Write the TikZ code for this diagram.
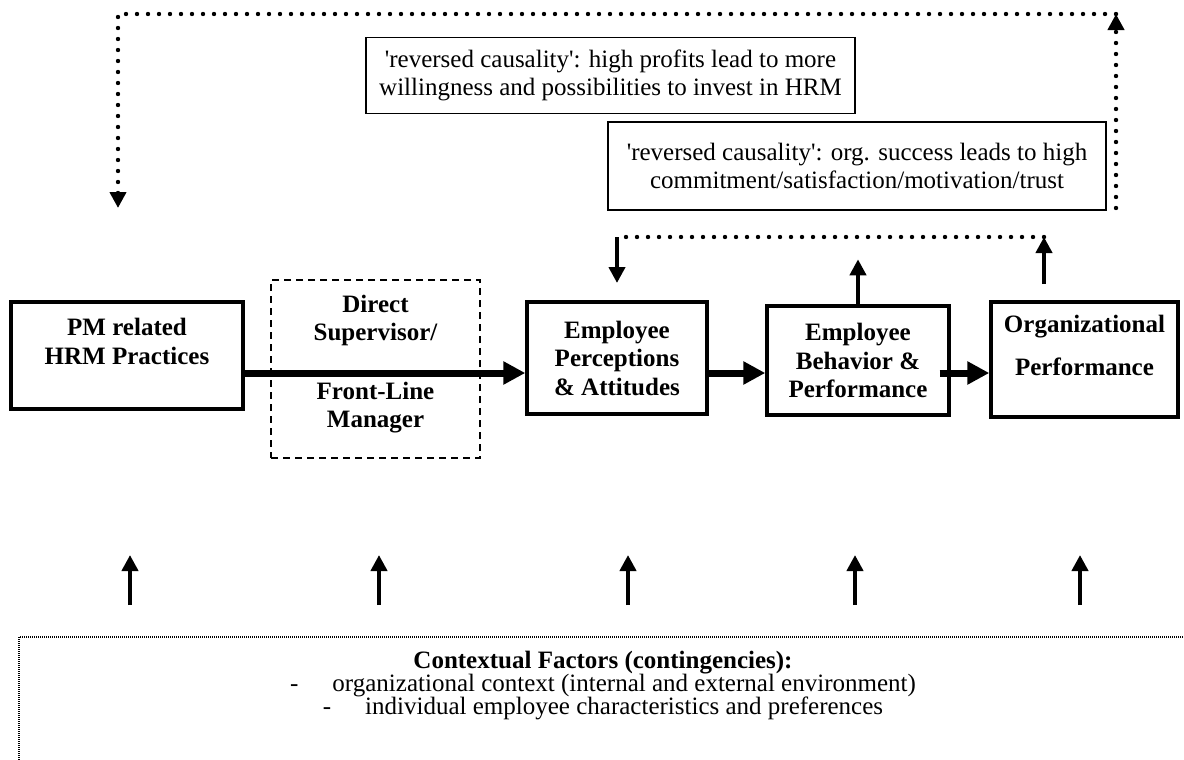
\documentclass[tikz,border=0pt]{standalone}
\usepackage{fontspec}
\setmainfont{Liberation Serif}
\usetikzlibrary{arrows.meta,calc}

\begin{document}
\begin{tikzpicture}[x=0.5pt,y=-0.5pt]
% Positions are in pixels of the original figure, y running down.

% This determines how the boxes and arrows will look.
\tikzstyle{box}=[draw,line width=1.7pt,align=center,inner sep=0pt,
font=\fontsize{12.5}{14.25}\selectfont\bfseries]
\tikzstyle{note}=[draw,line width=0.9pt,align=center,inner sep=0pt,
font=\fontsize{12.5}{14}\selectfont]
\tikzstyle{bigarrow}=[line width=3.5pt,-{Triangle[width=11pt,length=11pt]}]
\tikzstyle{arrow}=[line width=2pt,-{Triangle[width=8pt,length=8pt]}]
\tikzstyle{dots}=[line width=2.2pt,line cap=round,dash pattern=on 0pt off 5.5pt]
\tikzstyle{frame}=[line width=0.6pt,dash pattern=on 0.5pt off 0.5pt]

\useasboundingbox (0,0) rectangle (1184,760);

% This draws the chain of boxes.
\node[box,minimum width=116pt,minimum height=53.5pt] (pm) at (127,355.5) {PM related\\HRM Practices\\\mbox{}};
\node[box,line width=0.8pt,dash pattern=on 3.5pt off 2.5pt,minimum width=104.5pt,minimum height=89pt] (sup) at (375.5,369) {Direct\\Supervisor/\\[15pt]Front-Line\\Manager\\[-6.75pt]\mbox{}};
\node[box,minimum width=90pt,minimum height=56pt] (perc) at (617,358) {Employee\\Perceptions\\\& Attitudes};
\node[box,minimum width=91pt,minimum height=54.5pt] (behav) at (858,360.5) {Employee\\Behavior \&\\Performance};
\node[box,minimum width=93.5pt,minimum height=57.5pt] (org) at (1084.5,359.5) {Organizational\\[7.5pt]Performance\\\mbox{}};

% This draws the two notes on reversed causality.
\node[note,minimum width=244.5pt,minimum height=38pt] (profits) at (610.5,75.5) {\textquotesingle reversed causality\textquotesingle: high profits lead to more\\willingness and possibilities to invest in HRM};
\node[note,minimum width=249pt,minimum height=44pt] (success) at (857,166) {\textquotesingle reversed causality\textquotesingle: org. success leads to high\\commitment/satisfaction/motivation/trust};

% This draws the main arrows.
\coordinate (row) at (0,373);
\draw[bigarrow] (pm.east |- row) -- (perc.west |- row);
\draw[bigarrow] (perc.east |- row) -- (behav.west |- row);
\draw[bigarrow] ($(behav.east |- row)-(11,0)$) -- (org.west |- row);

% This draws the short feedback loop.
\coordinate (fbR) at (1044,237);
\coordinate (fbL) at (perc.north |- fbR);
\draw[arrow] (behav.north) -- ++(0,-45);
\draw[dots] (fbR) -- (fbL);
\draw[arrow] (fbL) -- ++(0,46);
\draw[arrow] (fbR |- 0,284) -- (fbR);

% This draws the long feedback loop.
\coordinate (topR) at (1116,14);
\coordinate (topL) at (118,14);
\draw[dots,-{Triangle[width=8pt,length=8pt]}] (topR |- 0,208) -- (topR);
\draw[dots,-{Triangle[width=8pt,length=8pt]}] (topR) -- (topL) -- ++(0,194);

% This draws the contextual factors.
\draw[frame] (19,637) rectangle (1200,780);
\node[align=center,font=\fontsize{12.5}{11.5}\selectfont] (context) at (603,686) {\textbf{Contextual Factors (contingencies):}\\-\hspace{17pt}organizational context (internal and external environment)\\-\hspace{17pt}individual employee characteristics and preferences};
\foreach \x in {130,379,628,855,1080}
  \draw[arrow] (\x,605) -- (\x,555);
\end{tikzpicture}
\end{document}
